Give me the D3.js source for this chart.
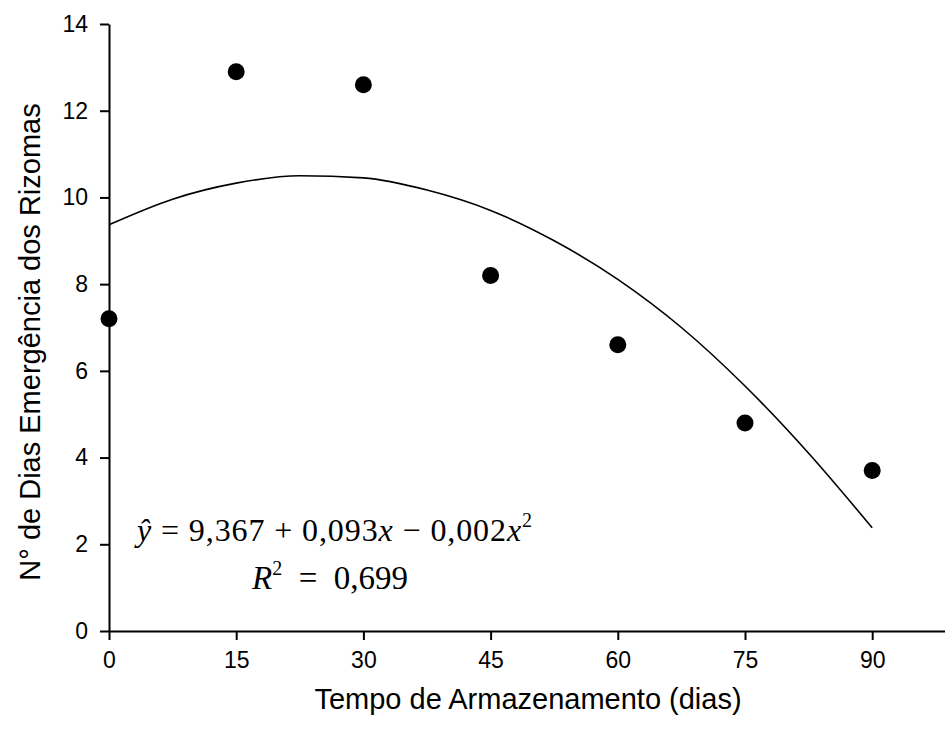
<!DOCTYPE html>
<html>
<head>
<meta charset="utf-8">
<script src="https://cdn.jsdelivr.net/npm/d3@7"></script>
<style>
  body { margin: 0; background: #fff; }
  svg { display: block; }
</style>
</head>
<body>
<div id="chart"></div>
<script>
// observed points (storage days vs days to emergence)
var days = [0, 15, 30, 45, 60, 75, 90];
var emergence = [7.2, 12.9, 12.6, 8.2, 6.6, 4.8, 3.7];

// fitted curve
var curveX = [0, 7.5, 15, 22.5, 30, 37.5, 45, 52.5, 60, 67.5, 75, 82.5, 90];
var curveY = [9.37, 9.96, 10.33, 10.5, 10.45, 10.17, 9.7, 9.0, 8.11, 7.0, 5.65, 4.1, 2.38];

var xTicks = [0, 15, 30, 45, 60, 75, 90];
var yTicks = [0, 2, 4, 6, 8, 10, 12, 14];

var width = 945, height = 729;

var svg = d3.select("#chart").append("svg")
    .attr("width", width)
    .attr("height", height);

var x = d3.scaleLinear().domain([0, 100]).range([109, 957]);
var y = d3.scaleLinear().domain([0, 14]).range([631, 24]);

var tickFont = "'Liberation Sans', Arial, sans-serif";

// x axis
var xAxis = svg.append("g")
    .attr("transform", "translate(0," + y(0) + ")")
    .call(d3.axisBottom(x).tickValues(xTicks).tickSize(9).tickPadding(12).tickSizeOuter(0));

// y axis
var yAxis = svg.append("g")
    .attr("transform", "translate(" + x(0) + ",0)")
    .call(d3.axisLeft(y).tickValues(yTicks).tickSize(9).tickPadding(12).tickSizeOuter(0));

[xAxis, yAxis].forEach(function(g) {
  g.attr("font-size", 23).attr("font-family", tickFont);
  g.select(".domain").attr("stroke", "#000").attr("stroke-width", 2);
  g.selectAll(".tick line").attr("stroke", "#000").attr("stroke-width", 2);
  g.selectAll(".tick text").attr("fill", "#000");
});

// axis titles
svg.append("text")
    .attr("x", 528)
    .attr("y", 709)
    .attr("text-anchor", "middle")
    .style("font-family", tickFont)
    .style("font-size", "29px")
    .text("Tempo de Armazenamento (dias)");

svg.append("text")
    .attr("transform", "translate(40," + 342 + ") rotate(-90)")
    .attr("text-anchor", "middle")
    .style("font-family", tickFont)
    .style("font-size", "29px")
    .text("N° de Dias Emergência dos Rizomas");

// regression curve
var line = d3.line()
    .x(function(d, i) { return x(curveX[i]); })
    .y(function(d) { return y(d); })
    .curve(d3.curveMonotoneX);

svg.append("path")
    .datum(curveY)
    .attr("d", line)
    .attr("fill", "none")
    .attr("stroke", "#000")
    .attr("stroke-width", 1.6);

// points
svg.append("g")
  .selectAll("circle")
  .data(emergence)
  .enter().append("circle")
    .attr("cx", function(d, i) { return x(days[i]); })
    .attr("cy", function(d) { return y(d); })
    .attr("r", 8.5)
    .attr("fill", "#000");

// equation
var serif = "'Liberation Serif', 'Times New Roman', serif";
var eq = svg.append("text")
    .attr("x", 137)
    .attr("y", 541)
    .style("font-family", serif)
    .style("font-size", "32px")
    .attr("textLength", 395)
    .attr("lengthAdjust", "spacing");
eq.append("tspan").style("font-style", "italic").text("ŷ");
eq.append("tspan").text(" = 9,367 + 0,093");
eq.append("tspan").style("font-style", "italic").text("x");
eq.append("tspan").text(" − 0,002");
eq.append("tspan").style("font-style", "italic").text("x");
eq.append("tspan").attr("dy", -14).style("font-size", "20px").text("2");

var r2 = svg.append("text")
    .attr("x", 252)
    .attr("y", 589)
    .style("font-family", serif)
    .style("font-size", "33px")
    .attr("xml:space", "preserve");
r2.append("tspan").style("font-style", "italic").text("R");
r2.append("tspan").attr("dy", -14).style("font-size", "20px").text("2");
r2.append("tspan").attr("dy", 14).text("  =  0,699");
</script>
</body>
</html>
